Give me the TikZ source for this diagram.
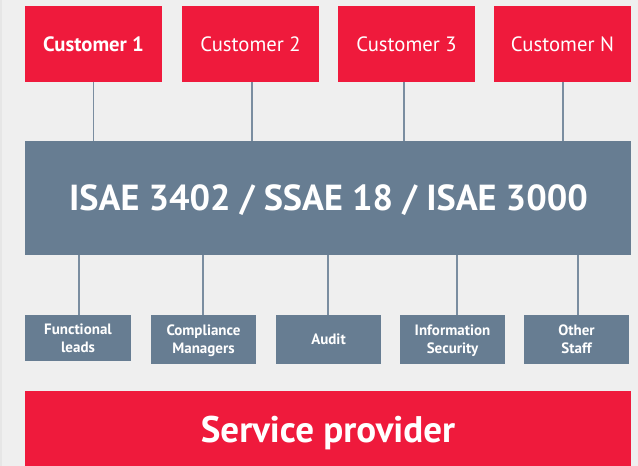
\documentclass[tikz,border=0pt]{standalone}
\usepackage{fontspec}
\setmainfont{PT Sans}
\definecolor{bg}{HTML}{EFEFEF}
\definecolor{bgedge}{HTML}{E6E6E6}
\definecolor{ered}{HTML}{EF1A3C}
\definecolor{eslate}{HTML}{677D92}
\definecolor{eline}{HTML}{7A8DA0}
\begin{document}
\begin{tikzpicture}[x=1pt,y=-1pt,
  custbox/.style={fill=ered,text=white,minimum width=137pt,minimum height=76pt,inner sep=0pt,text height=14.5pt,text depth=0pt,font=\fontsize{20.7}{22}\selectfont},
  rolebox/.style={fill=eslate,text=white,minimum width=105pt,minimum height=48.7pt,inner sep=0pt,align=center,text height=28.5pt,text depth=0pt,font=\bfseries\fontsize{15}{18}\selectfont},
  conn/.style={draw=eline,line width=1.6pt}]
\fill[bg] (0,0) rectangle (638,466);
\fill[bgedge] (0,0) rectangle (2,466);
\useasboundingbox (0,0) rectangle (638,466);
% customers
\node[custbox,font=\bfseries\fontsize{20.7}{22}\selectfont] (c1) at (93.5,44) {Customer 1};
\node[custbox] (c2) at (250.5,44) {Customer 2};
\node[custbox] (c3) at (406.5,44) {Customer 3};
\node[custbox] (cn) at (562.5,44) {Customer N};
% main bar
\node[fill=eslate,text=white,minimum width=606pt,minimum height=114pt,inner sep=0pt,text height=25.5pt,text depth=0pt,font=\bfseries\fontsize{36.2}{40}\selectfont] (isae) at (328,198) {\hspace*{1pt}ISAE 3402 / SSAE 18 / ISAE 3000};
% roles
\node[rolebox,minimum width=106pt,minimum height=46pt] (r1) at (78,338) {Functional\\leads};
\node[rolebox] (r2) at (203.5,339.35) {Compliance\\Managers};
\node[rolebox,text height=10.5pt] (r3) at (328.5,339.35) {Audit};
\node[rolebox] (r4) at (452.5,339.35) {Information\\Security};
\node[rolebox] (r5) at (576.5,339.35) {Other\\Staff};
% service provider
\node[fill=ered,text=white,minimum width=606pt,minimum height=76.4pt,inner sep=0pt,text height=26pt,text depth=0pt,font=\bfseries\fontsize{37}{40}\selectfont] (sp) at (328,429.2) {Service provider};
% connectors
\draw[conn] (c1.south -| 93.5,0) -- (isae.north -| 93.5,0);
\draw[conn] (c2.south -| 252,0) -- (isae.north -| 252,0);
\draw[conn] (c3.south -| 403.7,0) -- (isae.north -| 403.7,0);
\draw[conn] (cn.south -| 563,0) -- (isae.north -| 563,0);
\draw[conn] (isae.south -| 78.7,0) -- (r1.north -| 78.7,0);
\draw[conn] (isae.south -| 203,0) -- (r2.north -| 203,0);
\draw[conn] (isae.south -| 328,0) -- (r3.north -| 328,0);
\draw[conn] (isae.south -| 457,0) -- (r4.north -| 457,0);
\draw[conn] (isae.south -| 578,0) -- (r5.north -| 578,0);
\end{tikzpicture}
\end{document}
